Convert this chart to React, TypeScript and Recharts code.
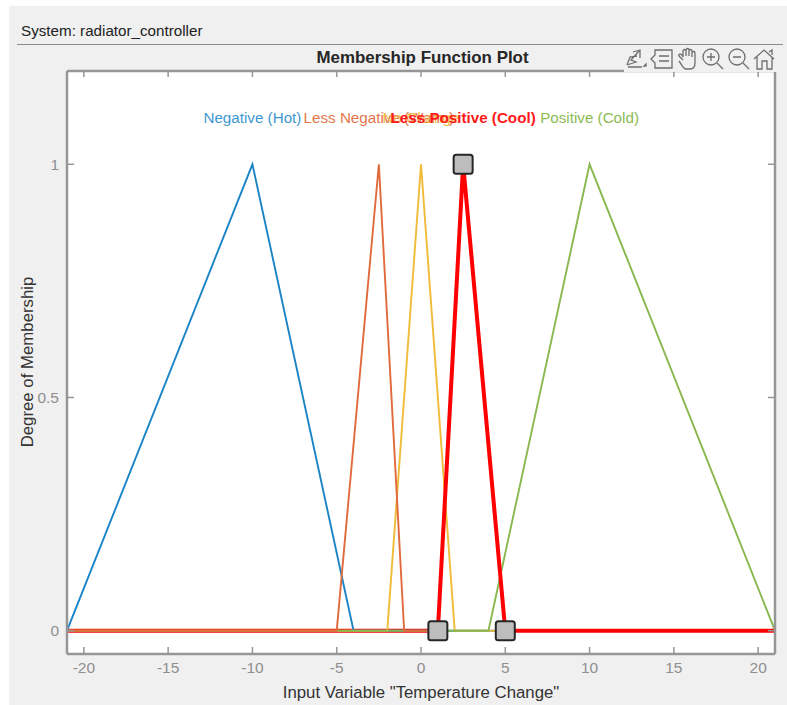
import React from "react";
import { ComposedChart, Line, XAxis, YAxis, ReferenceDot } from "recharts";

const xTicks = [-20, -15, -10, -5, 0, 5, 10, 15, 20];
const yTicks = [0, 0.5, 1];
const yTickLabels: Record<number, string> = { 0: "0", 0.5: "0.5", 1: "1" };

const negativeHot = [{ x: -21, y: 0 }, { x: -10, y: 1 }, { x: -4, y: 0 }, { x: 21, y: 0 }];
const lessNegative = [{ x: -21, y: 0 }, { x: -5, y: 0 }, { x: -2.5, y: 1 }, { x: -1, y: 0 }, { x: 1, y: 0 }];
const zeroChange = [{ x: -21, y: 0 }, { x: -2, y: 0 }, { x: 0, y: 1 }, { x: 2, y: 0 }, { x: 21, y: 0 }];
const lessPositiveLeft = [{ x: -21, y: 0 }, { x: 1, y: 0 }];
const lessPositive = [{ x: 1, y: 0 }, { x: 2.5, y: 1 }, { x: 5, y: 0 }, { x: 21, y: 0 }];
const positiveCold = [{ x: -21, y: 0 }, { x: 4, y: 0 }, { x: 10, y: 1 }, { x: 21, y: 0 }];
const handles = [{ x: 1, y: 0 }, { x: 2.5, y: 1 }, { x: 5, y: 0 }];

const labels = [
  { text: "Negative (Hot)", x: -10, color: "#3f97d0", weight: 400 },
  { text: "Less Negative (Warm)", x: -2.5, color: "#e2754a", weight: 400 },
  { text: "No Change", x: 0, color: "#f0bd4a", weight: 400 },
  { text: "Less Positive (Cool)", x: 2.5, color: "#ff1a1a", weight: 700 },
  { text: "Positive (Cold)", x: 10, color: "#8cba52", weight: 400 },
];

const BLUE = "#1a84c6";
const ORANGE = "#e06a3c";
const YELLOW = "#f0bb38";
const RED = "#ff0000";
const GREEN = "#88b84e";
const AXIS = "#969696";
const TICKTEXT = "#8f8f8f";
const FONT = "'Liberation Sans', Arial, sans-serif";

const Handle = (p: any) => (
  <rect key={p.index} x={p.cx - 9.5} y={p.cy - 9.5} width={19} height={19} rx={2.5} fill="#bdbdbd" stroke="#262626" strokeWidth={2} />
);
const noDot = false;

const Toolbar = () => (
  <svg width={153} height={26} style={{ position: "absolute", left: 624, top: 46 }} fill="none" stroke="#6e6e6e" strokeWidth={1.3}>
    <rect x={0} y={0} width={153} height={26} fill="#f0f0f0" stroke="none" />
    <path d="M3 19 L6 11 L13 10 M9 6 L16 4 L16 12 M15 5 L7 14 L12 16 L3 19 M4 21 L18 21" />
    <path d="M20 20 l2 0 l0 -2 z" fill="#6e6e6e" />
    <path d="M31 4 H48 V22 H31 V17 L27 13 L31 9 Z M35 10 H45 M35 15 H45" />
    <path d="M59 14 L55 10 C54 9 56 7 58 9 L59 11 V5 C59 3 62 3 62 5 V10 V4 C62 2 65 2 65 4 V10 V5 C65 3 68 3 68 5 V11 V7 C68 5 71 5 71 7 V17 C71 21 69 23 66 23 H62 C59 23 58 19 55 15" />
    <circle cx={87} cy={11} r={8} />
    <path d="M93 17 L99 23 M83 11 H91 M87 7 V15" />
    <circle cx={113} cy={11} r={8} />
    <path d="M119 17 L125 23 M109 11 H117" />
    <path d="M130 13 L140 4 L150 13 M133 11 V23 H138 V15 H143 V23 H148 V11 M145 6 L148 4 L148 9" />
  </svg>
);

export default function App() {
  return (
    <div style={{ position: "absolute", left: 0, top: 0, width: 787, height: 705, background: "#fff", overflow: "hidden", fontFamily: FONT }}>
      <div style={{ position: "absolute", left: 9, top: 6, width: 778, height: 699, background: "#f0f0f0" }} />
      <div style={{ position: "absolute", left: 21, top: 22, fontSize: 15.2, lineHeight: "18px", color: "#222" }}>System: radiator_controller</div>
      <div style={{ position: "absolute", left: 17, top: 44, width: 766, height: 1, background: "#8c8c8c" }} />
      <div style={{ position: "absolute", left: 67, top: 48, width: 711, textAlign: "center", fontSize: 16.9, fontWeight: 700, lineHeight: "20px", color: "#262626" }}>Membership Function Plot</div>

      <div style={{ position: "absolute", left: 0, top: 0 }}>
        <ComposedChart
          width={787}
          height={705}
          margin={{ left: 66, right: 11, top: 70, bottom: 0 }}
          style={{ background: "transparent" }}
        >
          <rect x={67} y={71} width={708} height={583} fill="#ffffff" />
          <XAxis
            xAxisId="b"
            type="number"
            dataKey="x"
            domain={[-21, 21]}
            ticks={xTicks}
            interval={0}
            allowDataOverflow
            orientation="bottom"
            height={51}
            tickSize={-7}
            tickMargin={15}
            tick={{ fill: TICKTEXT, stroke: "none", fontSize: 15.5, fontFamily: FONT }}
            tickLine={{ stroke: AXIS, strokeWidth: 1.5 }}
            axisLine={{ stroke: AXIS, strokeWidth: 2.5 }}
            label={{ value: 'Input Variable "Temperature Change"', position: "insideBottom", offset: 7, fill: "#333", fontSize: 16.8, fontFamily: FONT }}
          />
          <XAxis
            xAxisId="t"
            type="number"
            dataKey="x"
            domain={[-21, 21]}
            ticks={xTicks}
            interval={0}
            allowDataOverflow
            orientation="top"
            height={1}
            tickSize={-6}
            tickFormatter={() => ""}
            tickLine={{ stroke: AXIS, strokeWidth: 1.5 }}
            axisLine={{ stroke: AXIS, strokeWidth: 2.5 }}
          />
          <YAxis
            yAxisId="l"
            type="number"
            domain={[-0.05, 1.2]}
            ticks={yTicks}
            interval={0}
            allowDataOverflow
            width={1}
            orientation="left"
            tickSize={-7}
            tickMargin={15}
            tickFormatter={(v: number) => yTickLabels[v]}
            tick={{ fill: TICKTEXT, stroke: "none", fontSize: 15.5, fontFamily: FONT }}
            tickLine={{ stroke: AXIS, strokeWidth: 1.5 }}
            axisLine={{ stroke: AXIS, strokeWidth: 2.5 }}
          />
          <YAxis
            yAxisId="r"
            type="number"
            domain={[-0.05, 1.2]}
            ticks={yTicks}
            interval={0}
            allowDataOverflow
            width={1}
            orientation="right"
            tickSize={-7}
            tickFormatter={() => ""}
            tickLine={{ stroke: AXIS, strokeWidth: 1.5 }}
            axisLine={{ stroke: AXIS, strokeWidth: 2.5 }}
          />

          <Line xAxisId="b" yAxisId="l" data={lessPositiveLeft} dataKey="y" stroke={RED} strokeWidth={4} dot={noDot} isAnimationActive={false} />
          <Line xAxisId="b" yAxisId="l" data={negativeHot} dataKey="y" stroke={BLUE} strokeWidth={1.9} dot={noDot} isAnimationActive={false} />
          <Line xAxisId="b" yAxisId="l" data={zeroChange} dataKey="y" stroke={YELLOW} strokeWidth={1.9} dot={noDot} isAnimationActive={false} />
          <Line xAxisId="b" yAxisId="l" data={positiveCold} dataKey="y" stroke={GREEN} strokeWidth={1.9} dot={noDot} isAnimationActive={false} />
          <Line xAxisId="b" yAxisId="l" data={lessNegative} dataKey="y" stroke={ORANGE} strokeWidth={1.9} dot={noDot} isAnimationActive={false} />
          <Line xAxisId="b" yAxisId="l" data={handles} dataKey="y" stroke="none" dot={Handle} isAnimationActive={false} />
          <Line xAxisId="b" yAxisId="l" data={lessPositive} dataKey="y" stroke={RED} strokeWidth={4} dot={noDot} isAnimationActive={false} />

          {labels.map((l) => (
            <ReferenceDot
              key={l.text}
              xAxisId="b"
              yAxisId="l"
              x={l.x}
              y={1.1}
              r={0}
              stroke="none"
              fill="none"
              label={{ value: l.text, position: "center", fill: l.color, fontSize: 15.2, fontWeight: l.weight, fontFamily: FONT }}
            />
          ))}
        </ComposedChart>
      </div>

      <div style={{ position: "absolute", left: 20, top: 276, width: 16, height: 172, display: "flex", alignItems: "center", justifyContent: "center" }}>
        <span style={{ transform: "rotate(-90deg)", whiteSpace: "nowrap", fontSize: 16.8, color: "#333" }}>Degree of Membership</span>
      </div>
      <Toolbar />
    </div>
  );
}
